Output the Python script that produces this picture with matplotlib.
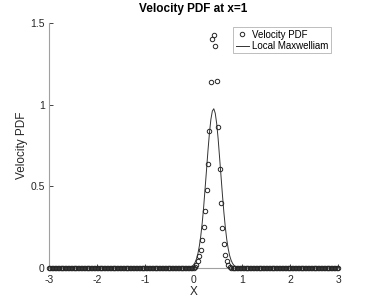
#!/usr/bin/env python3

import matplotlib
matplotlib.use('Agg')
import matplotlib.pyplot as plt
import numpy as np

# velocity grid, 201 points between -3 and 3 (step 0.03)
v = np.linspace(-3, 3, 201)

# velocity pdf samples, for v = 0.00 .. 0.78
pdf_start = 0.00
pdf_vals = [0.0, 0.005, 0.018, 0.043, 0.073, 0.11, 0.17, 0.25, 0.35, 0.48,
            0.637, 0.84, 1.137, 1.40, 1.427, 1.36, 1.143, 0.865, 0.608, 0.40,
            0.247, 0.147, 0.08, 0.041, 0.018, 0.005, 0.0]

# local maxwellian, for v = -0.09 .. 0.93
maxw_start = -0.09
maxw_vals = [0.003, 0.006, 0.011, 0.019, 0.033, 0.055, 0.087, 0.134, 0.196,
             0.276, 0.374, 0.485, 0.603, 0.721, 0.827, 0.910, 0.961, 0.975,
             0.948, 0.885, 0.793, 0.682, 0.563, 0.446, 0.339, 0.248, 0.173,
             0.117, 0.075, 0.047, 0.028, 0.016, 0.009, 0.005, 0.002]


def place(start, vals):
    arr = np.zeros_like(v)
    i0 = int(round((start + 3) / 0.03))
    arr[i0:i0 + len(vals)] = vals
    return arr


def main():
    plt.rcParams['font.family'] = ['Liberation Sans', 'DejaVu Sans']
    plt.rcParams['axes.unicode_minus'] = False
    pdf = place(pdf_start, pdf_vals)
    maxw = place(maxw_start, maxw_vals)

    fig = plt.figure(figsize=(3.74, 3.01), dpi=100)
    ax = fig.add_axes([0.131, 0.1096, 0.773, 0.814])

    ax.plot(v, pdf, 'o', color='#262626', markerfacecolor='none',
            markersize=3.2, markeredgewidth=0.7, label='Velocity PDF',
            clip_on=False, zorder=3)
    ax.plot(v, maxw, '-', color='#333333', linewidth=0.7, label='Local Maxwelliam')

    ax.set_xlim(-3, 3)
    ax.set_ylim(0, 1.5)
    ax.set_xticks([-3, -2, -1, 0, 1, 2, 3])
    ax.set_yticks([0, 0.5, 1, 1.5])
    ax.set_yticklabels(['0', '0.5', '1', '1.5'])
    ax.tick_params(direction='in', length=3, width=0.6, labelsize=7.5,
                   colors='#262626')
    ax.tick_params(axis='x', pad=5)
    ax.tick_params(axis='y', pad=3)
    for s in ['top', 'right']:
        ax.spines[s].set_visible(False)
    for s in ['left', 'bottom']:
        ax.spines[s].set_color('#a0a0a0')
        ax.spines[s].set_linewidth(0.8)

    ax.set_xlabel('X', fontsize=8.5, color='#262626', labelpad=1)
    ax.set_ylabel('Velocity PDF', fontsize=8.5, color='#262626', labelpad=2)
    ax.set_title('Velocity PDF at x=1', fontsize=8.5, fontweight='bold', pad=8)

    leg = ax.legend(loc='upper right', fontsize=7, frameon=True, fancybox=False,
                    borderpad=0.25, handlelength=1.4, handletextpad=0.3,
                    labelspacing=0.15, borderaxespad=0.3,
                    bbox_to_anchor=(0.985, 0.995))
    leg.get_frame().set_edgecolor('#a0a0a0')
    leg.get_frame().set_linewidth(0.6)

    fig.savefig('out.png', dpi=100)


if __name__ == "__main__":
    main()
